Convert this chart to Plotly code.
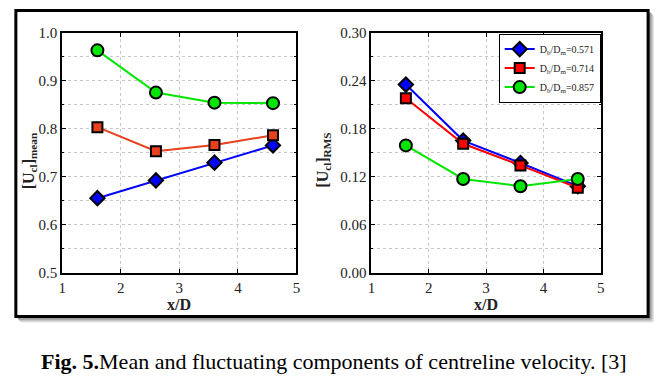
import plotly.graph_objects as go

W, H = 661, 380

x_pos = [1.6, 2.6, 3.6, 4.6]
series_names = ["D<sub>b</sub>/D<sub>m</sub>=0.571",
                "D<sub>b</sub>/D<sub>m</sub>=0.714",
                "D<sub>b</sub>/D<sub>m</sub>=0.857"]
mean_571 = [0.655, 0.692, 0.729, 0.765]
mean_714 = [0.803, 0.753, 0.766, 0.786]
mean_857 = [0.963, 0.875, 0.854, 0.853]
rms_571 = [0.235, 0.165, 0.137, 0.108]
rms_714 = [0.218, 0.161, 0.134, 0.106]
rms_857 = [0.159, 0.117, 0.108, 0.117]

x_ticks = [1, 2, 3, 4, 5]
mean_ticks = [0.5, 0.6, 0.7, 0.8, 0.9, 1.0]
mean_labels = ["0.5", "0.6", "0.7", "0.8", "0.9", "1.0"]
rms_ticks = [0.0, 0.06, 0.12, 0.18, 0.24, 0.30]
rms_labels = ["0.00", "0.06", "0.12", "0.18", "0.24", "0.30"]

colors_left = ["#0000ff", "#e8401c", "#00e600"]
colors_right = ["#0000ff", "#ff0000", "#00e600"]
symbols = ["diamond", "square", "circle"]
msizes = [11, 10, 12]

def px(v):
    return v / W

def py(v):
    v = (v - 8.4) / 0.958
    return 1 - v / H

fig = go.Figure()

for vals, c, s, ms, name in zip([mean_571, mean_714, mean_857], colors_left, symbols, msizes, series_names):
    fig.add_trace(go.Scatter(x=x_pos, y=vals, mode="lines+markers", name=name, showlegend=False,
                             line=dict(color=c, width=2),
                             marker=dict(symbol=s, size=ms, color=c, line=dict(color="black", width=2)),
                             xaxis="x", yaxis="y"))
for vals, c, s, ms, name in zip([rms_571, rms_714, rms_857], colors_right, symbols, msizes, series_names):
    fig.add_trace(go.Scatter(x=x_pos, y=vals, mode="lines+markers", name=name, showlegend=True,
                             line=dict(color=c, width=2),
                             marker=dict(symbol=s, size=ms, color=c, line=dict(color="black", width=2)),
                             xaxis="x2", yaxis="y2"))

tickfont = dict(family="Liberation Serif", size=15, color="#222")
common = dict(showline=True, linecolor="black", linewidth=2, mirror="ticks", ticks="inside",
              ticklen=4, tickcolor="black", tickfont=tickfont, zeroline=False,
              showgrid=True, gridcolor="#c8c8c8", griddash="dot", gridwidth=1)

ydom = [py(273), py(33)]
fig.update_layout(
    width=W, height=H, margin=dict(l=0, r=0, t=0, b=0),
    paper_bgcolor="white", plot_bgcolor="white",
    xaxis=dict(domain=[px(59), px(296)], range=[1, 5], tickvals=x_ticks, anchor="y", **common),
    yaxis=dict(domain=ydom, range=[0.5, 1.0], tickvals=mean_ticks, ticktext=mean_labels, anchor="x",
               minor=dict(dtick=0.05, showgrid=True, gridcolor="#c8c8c8", griddash="dot", ticks="inside", ticklen=2, tickcolor="black"),
               **common),
    xaxis2=dict(domain=[px(372), px(604)], range=[1, 5], tickvals=x_ticks, anchor="y2", **common),
    yaxis2=dict(domain=ydom, range=[0, 0.30], tickvals=rms_ticks, ticktext=rms_labels, anchor="x2",
                minor=dict(dtick=0.03, showgrid=True, gridcolor="#c8c8c8", griddash="dot", ticks="inside", ticklen=2, tickcolor="black"),
                **common),
    legend=dict(x=px(604), y=py(34), xanchor="right", yanchor="top", bgcolor="white",
                bordercolor="black", borderwidth=1, font=dict(family="Liberation Serif", size=10, color="#222"),
                tracegroupgap=0, itemwidth=30),
    showlegend=True,
)

# frame with shadow (shadow only to the right and below)
for off, col in [(5, "#e6e6e6"), (4, "#d0d0d0"), (3, "#b8b8b8"), (2, "#9a9a9a")]:
    fig.add_shape(type="line", xref="paper", yref="paper", x0=px(12 + off), x1=px(652 + off),
                  y0=py(317 + off), y1=py(317 + off), line=dict(color=col, width=2), layer="below")
    fig.add_shape(type="line", xref="paper", yref="paper", x0=px(652 + off), x1=px(652 + off),
                  y0=py(317 + off), y1=py(11 + off), line=dict(color=col, width=2), layer="below")
fig.add_shape(type="rect", xref="paper", yref="paper", x0=px(12), x1=px(652), y0=py(317), y1=py(11),
              line=dict(color="black", width=3), fillcolor="white", layer="below")

def label(text, x, y, size, angle=0, color="#222"):
    fig.add_annotation(text=text, xref="paper", yref="paper", x=px(x), y=py(y), showarrow=False,
                       xanchor="center", yanchor="middle", textangle=angle,
                       font=dict(family="Liberation Serif", size=size, color=color))

label("<b>x/D</b>", 177, 305, 16)
label("<b>x/D</b>", 488, 305, 16)
label("<b>[U<sub>cl</sub>]<sub>mean</sub></b>", 26, 161, 16, angle=-90)
label("<b>[U<sub>cl</sub>]<sub>RMS</sub></b>", 323, 161, 16, angle=-90)
label("<b>Fig. 5.</b>Mean and fluctuating components of centreline velocity. [3]", 334, 362, 22, color="black")

fig.write_html("out.html", config={"displayModeBar": False},
               post_script="document.body.style.margin='0';document.body.style.overflow='hidden';")
